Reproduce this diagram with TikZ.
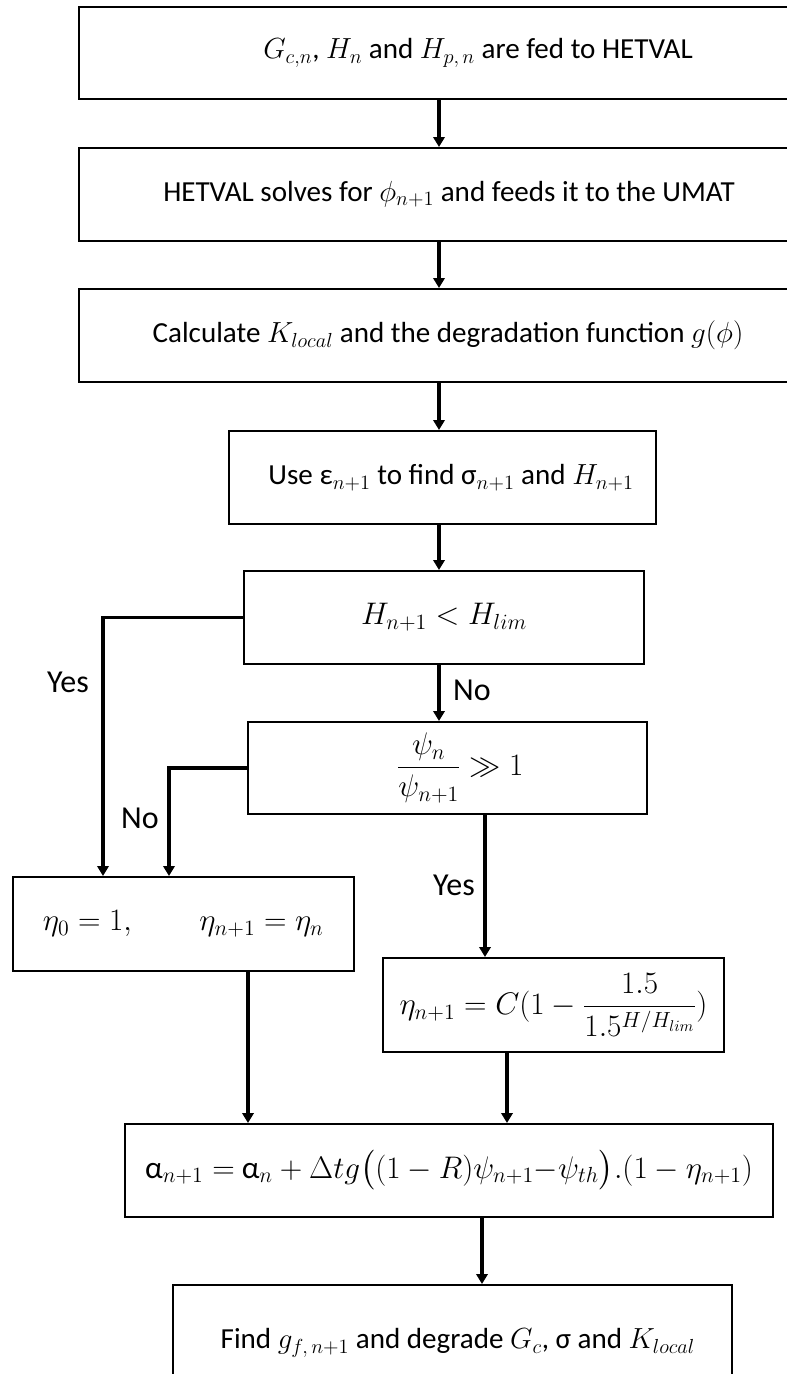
\RequirePackage{fix-cm}
\documentclass[tikz,border=0pt]{standalone}
\usepackage{amsmath}
\usepackage{fontspec}
\setmainfont{Carlito}
\usetikzlibrary{arrows.meta}
\begin{document}
\begin{tikzpicture}[x=0.75pt,y=-0.75pt,
  boxnode/.style={draw,line width=1.5pt,rectangle,inner sep=0pt,font=\fontsize{21.8}{26}\selectfont},
  mathbox/.style={boxnode,font=\fontsize{23.4}{28}\selectfont},
  flowarrow/.style={line width=2.3pt,-{Triangle[length=7.5pt,width=8.5pt]}},
  lbl/.style={font=\fontsize{24}{28}\selectfont,inner sep=0pt}]
\useasboundingbox (0,0) rectangle (787,1374);
\clip (0,0) rectangle (787,1374);
\fill[white] (0,0) rectangle (787,1374);
% boxes
\node[boxnode,minimum width=798*0.75pt,minimum height=92*0.75pt] (b1) at (478,53) {$G_{c,n}$, $H_n$ and $H_{p,\,n}$ are fed to HETVAL};
\node[boxnode,minimum width=740*0.75pt,minimum height=93*0.75pt] (b2) at (449,194.5) {HETVAL solves for $\phi_{n+1}$ and feeds it to the UMAT};
\node[boxnode,minimum width=738*0.75pt,minimum height=93*0.75pt] (b3) at (448,335.5) {Calculate $K_{local}$ and the degradation function $g(\phi)$};
\node[boxnode,minimum width=427*0.75pt,minimum height=93*0.75pt] (b4) at (442.5,477.5) {\hspace*{13pt}Use ε$_{n+1}$ to find σ$_{n+1}$ and $H_{n+1}$};
\node[mathbox,minimum width=400*0.75pt,minimum height=93*0.75pt] (b5) at (444,617.5) {$H_{n+1} < H_{lim}$};
\node[mathbox,minimum width=399*0.75pt,minimum height=92*0.75pt] (b6) at (447.5,768) {\hspace*{19pt}$\dfrac{\psi_n}{\psi_{n+1}} \gg 1$};
\node[mathbox,minimum width=341*0.75pt,minimum height=94*0.75pt] (b7) at (183.3,924) {$\eta_0 = 1, \qquad \eta_{n+1} = \eta_n$};
\node[mathbox,minimum width=341*0.75pt,minimum height=94*0.75pt] (b8) at (553.5,1005) {$\eta_{n+1} = C(1-\dfrac{1.5}{1.5^{H/H_{lim}}})$};
\node[mathbox,minimum width=648*0.75pt,minimum height=93*0.75pt] (b9) at (449,1170.5) {α$_{n+1} =$ α$_n + \Delta t g\big((1-R)\psi_{n+1}{-}\psi_{th}\big).(1-\eta_{n+1})$};
\node[boxnode,minimum width=559*0.75pt,minimum height=116*0.75pt] (b10) at (452.5,1343) {\hspace*{8pt}Find $g_{f,\,n+1}$ and degrade $G_c$, σ and $K_{local}$};
% arrow columns
\coordinate (cmain) at (439,0);
\coordinate (cyes) at (103,0);
\coordinate (cno) at (169,0);
\coordinate (cyes2) at (485,0);
\coordinate (cl) at (248,0);
\coordinate (cr) at (507,0);
\coordinate (cb) at (482,0);
% connectors
\draw[flowarrow] (b1.south -| cmain) -- (b2.north -| cmain);
\draw[flowarrow] (b2.south -| cmain) -- (b3.north -| cmain);
\draw[flowarrow] (b3.south -| cmain) -- (b4.north -| cmain);
\draw[flowarrow] (b4.south -| cmain) -- (b5.north -| cmain);
\draw[flowarrow] (b5.south -| cmain) -- (b6.north -| cmain);
\draw[flowarrow] (b5.west) -| (b7.north -| cyes);
\draw[flowarrow] (b6.west) -| (b7.north -| cno);
\draw[flowarrow] (b6.south -| cyes2) -- (b8.north -| cyes2);
\draw[flowarrow] (b7.south -| cl) -- (b9.north -| cl);
\draw[flowarrow] (b8.south -| cr) -- (b9.north -| cr);
\draw[flowarrow] (b9.south -| cb) -- (b10.north -| cb);
% labels
\node[lbl] (lyes1) at (68,682) {Yes};
\node[lbl] (lno1) at (472,690) {No};
\node[lbl] (lno2) at (140,818) {No};
\node[lbl] (lyes2) at (454,885) {Yes};
\end{tikzpicture}
\end{document}
